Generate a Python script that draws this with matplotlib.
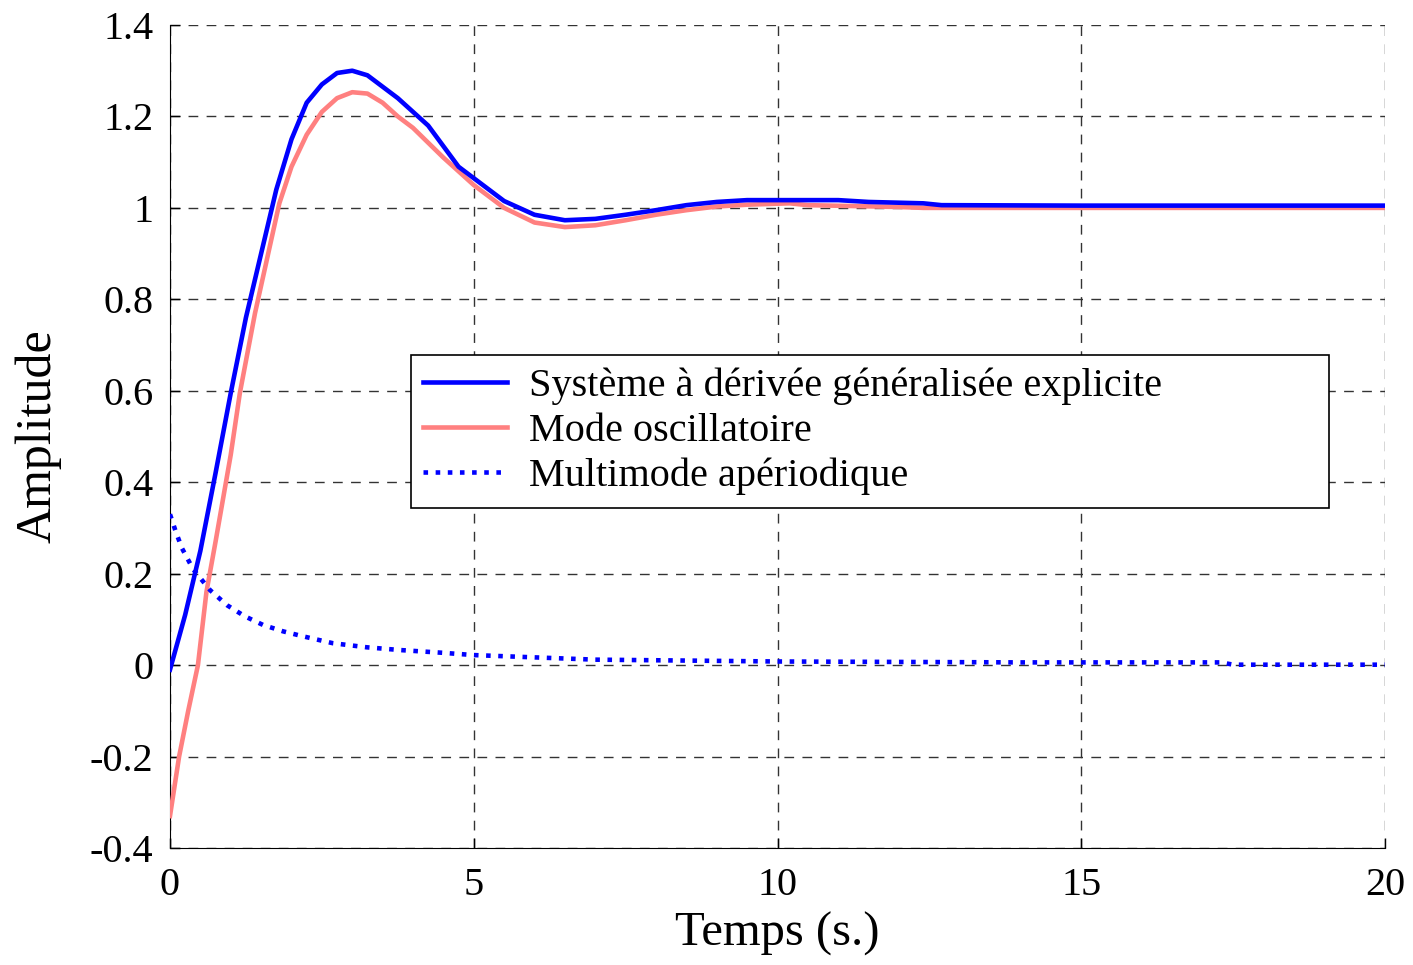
import matplotlib
matplotlib.use('Agg')
import matplotlib.pyplot as plt

# step responses
t_sys = [0, 0.25, 0.5, 0.75, 1.0, 1.25, 1.5, 1.75, 2.0, 2.25, 2.5, 2.75, 3.0, 3.25,
         3.5, 3.75, 4.0, 4.25, 4.5, 4.75, 5.0, 5.5, 6.0, 6.5, 7.0, 7.5, 8.0, 8.5,
         9.0, 9.5, 10, 11, 11.5, 12.4, 12.7, 15, 20]
y_sys = [-0.01, 0.11, 0.25, 0.42, 0.595, 0.76, 0.90, 1.04, 1.15, 1.23, 1.27, 1.295, 1.30, 1.29,
         1.265, 1.24, 1.21, 1.18, 1.135, 1.09, 1.065, 1.015, 0.985, 0.973, 0.976, 0.985, 0.995, 1.006,
         1.013, 1.017, 1.017, 1.017, 1.013, 1.01, 1.006, 1.005, 1.005]

t_osc = [0, 0.15, 0.3, 0.46, 0.6, 0.75, 1.0, 1.15, 1.4, 1.6, 1.8, 2.0, 2.25, 2.5, 2.75,
         3.0, 3.25, 3.5, 3.75, 4.0, 4.5, 5.0, 5.5, 6.0, 6.5, 7.0, 7.5, 8.0, 8.5, 9.0,
         9.5, 10.2, 10.5, 12.0, 12.4, 20]
y_osc = [-0.33, -0.2, -0.10, 0.0, 0.16, 0.27, 0.46, 0.595, 0.77, 0.89, 1.01, 1.09, 1.16, 1.21, 1.24,
         1.253, 1.25, 1.23, 1.20, 1.175, 1.11, 1.05, 1.0, 0.968, 0.958, 0.962, 0.973, 0.985, 0.995, 1.003,
         1.007, 1.01, 1.006, 1.002, 1.0, 1.0]

t_ape = [0, 0.1, 0.2, 0.38, 0.66, 0.94, 1.23, 1.53, 1.86, 2.19, 2.68, 3.24, 3.79, 4.49,
         5.0, 6.0, 7.0, 8.5, 10, 12, 14, 17.3, 17.5, 20]
y_ape = [0.33, 0.29, 0.255, 0.21, 0.164, 0.131, 0.107, 0.088, 0.074, 0.063, 0.048, 0.039, 0.033, 0.027,
         0.022, 0.017, 0.012, 0.010, 0.008, 0.007, 0.006, 0.006, 0.001, 0.001]

labels = ['Système à dérivée généralisée explicite', 'Mode oscillatoire', 'Multimode apériodique']
x_ticks = [0, 5, 10, 15, 20]
y_ticks = [-0.4, -0.2, 0, 0.2, 0.4, 0.6, 0.8, 1.0, 1.2, 1.4]
y_ticklabels = ['-0.4', '-0.2', '0', '0.2', '0.4', '0.6', '0.8', '1', '1.2', '1.4']

plt.rcParams['font.family'] = ['Liberation Serif', 'DejaVu Serif']

fig = plt.figure(figsize=(14.13, 9.65), dpi=100)
ax = fig.add_axes([0.1203, 0.1212, 0.8599, 0.8529])

ax.plot(t_sys, y_sys, color='#0000ff', lw=3.3, label=labels[0], zorder=4)
ax.plot(t_osc, y_osc, color='#ff8080', lw=3.3, label=labels[1], zorder=3)
ax.plot(t_ape, y_ape, color='#0000ff', lw=3.3, linestyle=':', label=labels[2], zorder=4)

ax.set_xlim(0, 20)
ax.set_ylim(-0.4, 1.4)
ax.set_xticks(x_ticks)
ax.set_yticks(y_ticks)
ax.set_yticklabels(y_ticklabels)
ax.tick_params(direction='in', length=7, width=1, labelsize=29, top=False, right=False)
ax.tick_params(axis='x', pad=14)
ax.tick_params(axis='y', pad=12)

ax.grid(True, color='#333333', lw=1, linestyle=(0, (7, 6)))
ax.spines['top'].set_visible(False)
ax.spines['right'].set_visible(False)

ax.set_xlabel('Temps (s.)', fontsize=35, labelpad=5)
ax.set_ylabel('Amplitude', fontsize=36, labelpad=20)

# legend box stretched to the width it has in the reference
leg = ax.legend(loc='upper left', bbox_to_anchor=(0.198, 0.599, 0.756, 0.0), mode='expand',
                borderaxespad=0, fontsize=29, handlelength=2.1, handletextpad=0.55,
                borderpad=0.3, labelspacing=0.2, fancybox=False, framealpha=1, edgecolor='k')
leg.get_frame().set_linewidth(1.2)

plt.savefig('out.png', dpi=100)
